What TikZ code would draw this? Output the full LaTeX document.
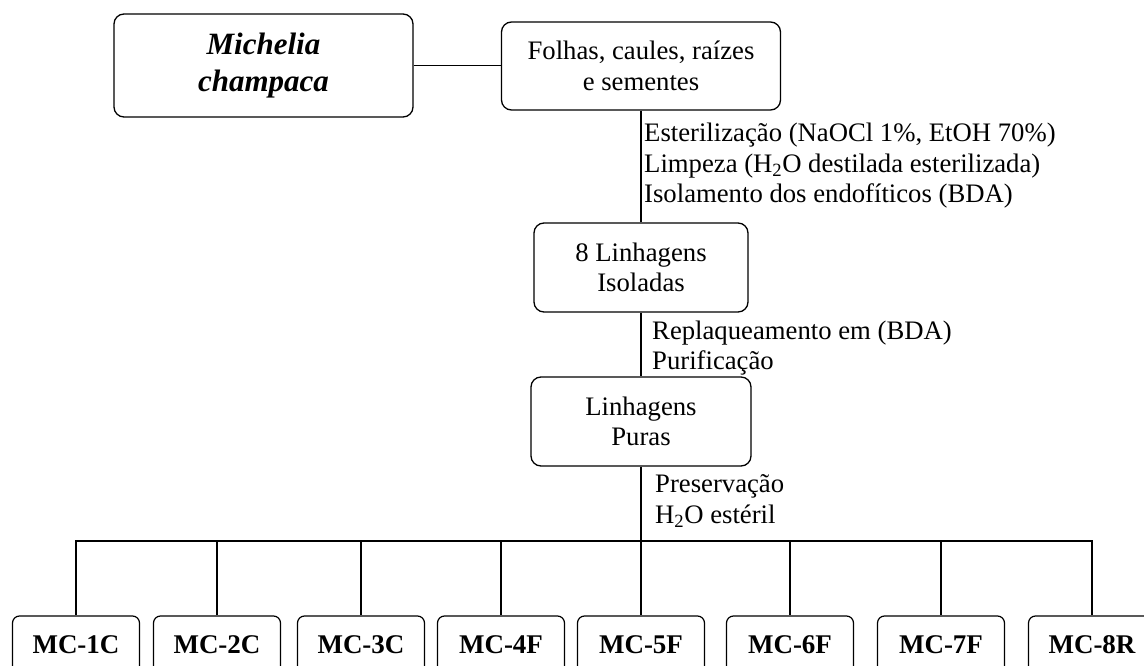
\documentclass[tikz,border=0pt]{standalone}
\usepackage{fontspec}
\setmainfont{Liberation Serif}
\begin{document}
\begin{tikzpicture}[x=1pt,y=-1pt,
  box/.style={draw, line width=1.3pt, rounded corners=10pt, align=center, inner sep=0pt},
  body/.style={font=\fontsize{26.7}{30.5}\selectfont},
  leaf/.style={draw, line width=1.2pt, rounded corners=7pt, minimum width=127pt,
    minimum height=58pt, inner sep=0pt, font=\fontsize{27}{30}\selectfont\bfseries},
  note/.style={body, align=left, inner sep=0pt, anchor=west},
  link/.style={line width=1.5pt},
]
\useasboundingbox (0,0) rectangle (1144,666);
\clip (0,0) rectangle (1144,666);

% main chain of boxes
\node[box, minimum width=299pt, minimum height=103pt,
  font=\fontsize{31}{37}\selectfont\bfseries\itshape] (plant) at (263.5,65.5) {Michelia\\champaca};
\node[box, body, minimum width=279pt, minimum height=88pt] (parts) at (641,66) {Folhas, caules, raízes\\e sementes};
\node[box, body, minimum width=214pt, minimum height=89pt] (isol) at (641,267.5) {8 Linhagens\\Isoladas};
\node[box, body, minimum width=220pt, minimum height=89pt] (pure) at (641,421.5) {Linhagens\\Puras};

% step descriptions beside the vertical links
\node[note] (steril) at (644,166) {Esterilização (NaOCl 1\%, EtOH 70\%)\\Limpeza (H\textsubscript{2}O destilada esterilizada)\\Isolamento dos endofíticos (BDA)};
\node[note] (purif) at (652,348) {Replaqueamento em (BDA)\\Purificação};
\node[note] (pres) at (655,501) {Preservação\\H\textsubscript{2}O estéril};

% the eight strains
\foreach \name/\cx [count=\i] in {MC-1C/76, MC-2C/217, MC-3C/361, MC-4F/501,
    MC-5F/641, MC-6F/790, MC-7F/941, MC-8R/1092}
  \node[leaf] (mc\i) at (\cx,645) {\name};

% connectors
\draw[link] (plant.east) -- (plant.east -| parts.west);
\draw[link] (parts.south) -- (isol.north);
\draw[link] (isol.south) -- (pure.north);
\coordinate (bus) at (641,541);
\draw[line width=2.3pt] (pure.south) -- (bus);
\draw[line width=2pt, line cap=rect] (mc1.north |- bus) -- (mc8.north |- bus);
\foreach \i in {1,...,8}
  \draw[link] (mc\i.north |- bus) -- (mc\i.north);
\end{tikzpicture}
\end{document}
